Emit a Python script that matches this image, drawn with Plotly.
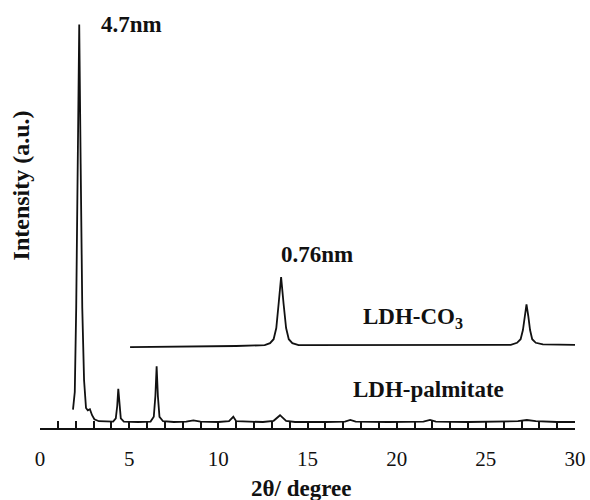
import plotly.graph_objects as go

# XRD patterns: 2-theta (degree) and intensity (a.u.)
palmitate_2theta = [1.85, 1.95, 2.03, 2.12, 2.2, 2.28, 2.37, 2.47, 2.58, 2.68, 2.8, 2.92, 3.05, 3.3,
                    3.8, 4.1, 4.25, 4.33, 4.39, 4.45, 4.53, 4.7, 5.5, 6.2, 6.38, 6.47, 6.54, 6.61,
                    6.7, 6.9, 7.5, 8.2, 8.6, 9.0, 10.0, 10.6, 10.84, 11.0, 11.5, 12.5, 13.1, 13.46,
                    13.8, 14.3, 16.0, 17.1, 17.4, 17.7, 19.5, 21.5, 21.87, 22.2, 24.0, 25.5, 26.3,
                    26.8, 27.3, 27.8, 29.0, 30.0]
palmitate_int = [46, 90, 300, 660, 1009, 660, 300, 120, 50, 44, 47, 32, 22, 17,
                 16, 16, 24, 55, 98, 55, 24, 16, 15, 16, 28, 80, 154, 80,
                 28, 17, 15, 16, 19, 16, 15, 17, 28, 17, 16, 15, 18, 32,
                 18, 15, 15, 16, 20, 16, 15, 16, 20, 16, 15, 16, 18,
                 17, 20, 17, 15, 15]

co3_2theta = [5.05, 8.0, 11.0, 12.6, 12.9, 13.1, 13.25, 13.38, 13.52, 13.66, 13.8, 13.95, 14.15,
              14.5, 17.0, 20.0, 23.0, 26.4, 26.75, 26.95, 27.08, 27.18, 27.28, 27.38, 27.48,
              27.6, 27.8, 28.2, 30.0]
co3_int = [202, 203, 205, 207, 212, 222, 250, 310, 377, 310, 250, 222, 212,
           207, 207, 207, 208, 208, 213, 222, 245, 280, 309, 280, 245,
           222, 213, 209, 208]

x_ticks = [0, 5, 10, 15, 20, 25, 30]

serif = "'Liberation Serif', 'Times New Roman', Times, 'DejaVu Serif', serif"
ink = "#111111"

fig = go.Figure()
fig.add_trace(go.Scatter(x=palmitate_2theta, y=palmitate_int, mode="lines",
                         line=dict(color=ink, width=1.8), showlegend=False))
fig.add_trace(go.Scatter(x=co3_2theta, y=co3_int, mode="lines",
                         line=dict(color=ink, width=1.8), showlegend=False))

bold = dict(family=serif, size=23, color=ink)
fig.add_annotation(x=3.3, y=1009, xref="x", yref="y", text="<b>4.7nm</b>",
                   showarrow=False, xanchor="left", yanchor="middle", font=bold)
fig.add_annotation(x=13.4, y=434, xref="x", yref="y", text="<b>0.76nm</b>",
                   showarrow=False, xanchor="left", yanchor="middle", font=bold)
fig.add_annotation(x=18.0, y=276, xref="x", yref="y", text="<b>LDH-CO<sub>3</sub></b>",
                   showarrow=False, xanchor="left", yanchor="middle", font=bold)
fig.add_annotation(x=17.45, y=96, xref="x", yref="y", text="<b>LDH-palmitate</b>",
                   showarrow=False, xanchor="left", yanchor="middle", font=bold)
fig.add_annotation(x=0.488, y=-0.144, xref="paper", yref="paper", text="<b>2θ/ degree</b>",
                   showarrow=False, xanchor="center", yanchor="middle", font=bold)
fig.add_annotation(x=-0.036, y=0.577, xref="paper", yref="paper",
                   text="<b>Intensity (a.u.)</b>", textangle=-90,
                   showarrow=False, xanchor="center", yanchor="middle",
                   font=dict(family=serif, size=24, color=ink))

fig.update_layout(
    width=590, height=500,
    margin=dict(l=40, r=15, t=8, b=72, autoexpand=False),
    paper_bgcolor="white", plot_bgcolor="white",
    font=dict(family=serif),
    xaxis=dict(range=[0, 30], tickvals=x_ticks, ticktext=[str(v) for v in x_ticks],
               showline=True, linecolor=ink, linewidth=1.5,
               ticks="inside", ticklen=7, tickwidth=1.5, tickcolor=ink,
               minor=dict(dtick=1, ticks="inside", ticklen=7, tickwidth=1.5, tickcolor=ink),
               showgrid=False, zeroline=False, ticklabelstandoff=11, automargin=False,
               tickfont=dict(family=serif, size=21, color=ink)),
    yaxis=dict(range=[0, 1050], visible=False, showgrid=False, zeroline=False, automargin=False),
)

fig.write_html("out.html")
